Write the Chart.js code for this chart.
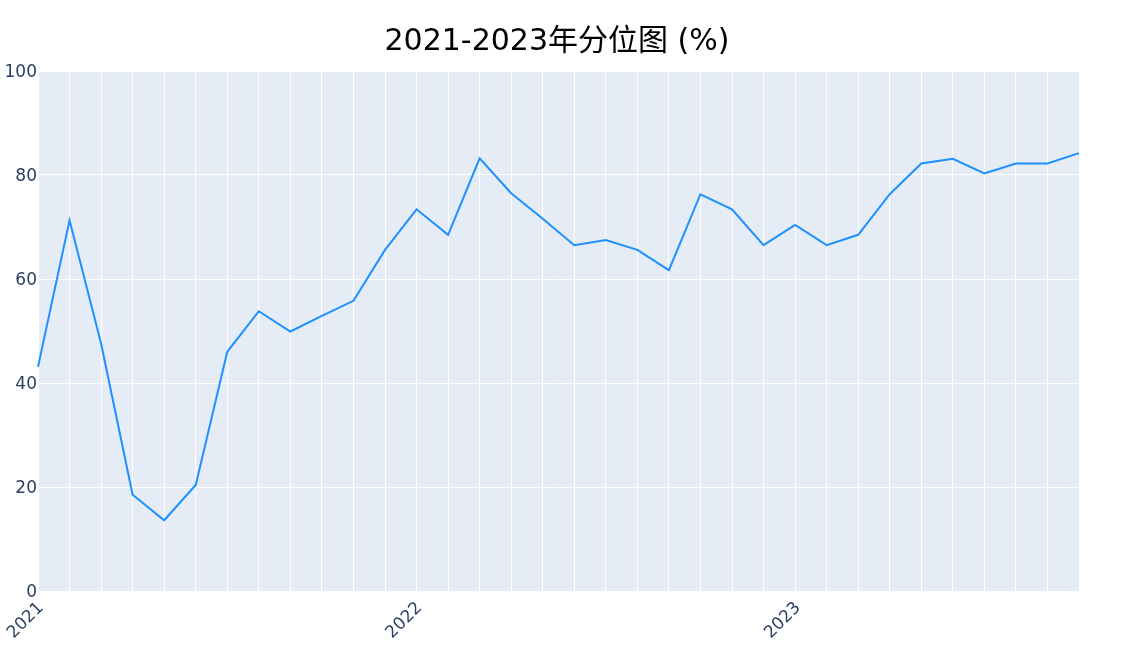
<!DOCTYPE html>
<html>
<head>
<meta charset="utf-8">
<script src="https://cdn.jsdelivr.net/npm/chart.js@4"></script>
<style>
  body { margin: 0; background: #fff; }
  #wrap { width: 1138px; height: 664px; }
</style>
</head>
<body>
<div id="wrap"><canvas id="quantileChart" width="1138" height="664"></canvas></div>
<script>
const months = [
    '2021-01', '2021-02', '2021-03', '2021-04', '2021-05', '2021-06',
    '2021-07', '2021-08', '2021-09', '2021-10', '2021-11', '2021-12',
    '2022-01', '2022-02', '2022-03', '2022-04', '2022-05', '2022-06',
    '2022-07', '2022-08', '2022-09', '2022-10', '2022-11', '2022-12',
    '2023-01', '2023-02', '2023-03', '2023-04', '2023-05', '2023-06',
    '2023-07', '2023-08', '2023-09', '2023-10'
];
const percentile = [
    43.1, 71.3, 47.6, 18.5, 13.6, 20.4, 46.0, 53.8, 49.9, 52.9, 55.8, 65.6,
    73.4, 68.5, 83.2, 76.5, 71.6, 66.5, 67.5, 65.6, 61.7, 76.3, 73.4, 66.5,
    70.4, 66.5, 68.5, 76.3, 82.2, 83.1, 80.3, 82.2, 82.2, 84.2
];
const yTicks = [0, 20, 40, 60, 80, 100];
const chartTitle = '2021-2023年分位图 (%)';

const tickFont = '"DejaVu Sans", "Noto Sans CJK SC", sans-serif';
const tickColor = '#2a3f5f';

// plot background like plotly
const plotBg = {
    id: 'plotBg',
    beforeDraw(chart) {
        const { ctx, chartArea } = chart;
        ctx.save();
        ctx.fillStyle = '#E5ECF6';
        ctx.fillRect(chartArea.left, chartArea.top, chartArea.width, chartArea.height);
        ctx.restore();
    }
};

// title centred a bit right of the plot centre, as in the original
const titleText = {
    id: 'titleText',
    afterDraw(chart) {
        const c = chart.ctx;
        c.save();
        c.font = '30px ' + tickFont;
        c.fillStyle = '#000';
        c.textAlign = 'center';
        c.textBaseline = 'alphabetic';
        c.fillText(chartTitle, 557, 50);
        c.restore();
    }
};

const ctx = document.getElementById('quantileChart').getContext('2d');
new Chart(ctx, {
    type: 'line',
    data: {
        labels: months,
        datasets: [{
            label: '分位',
            data: percentile,
            borderColor: '#1E90FF',
            borderWidth: 2,
            pointRadius: 0,
            tension: 0
        }]
    },
    options: {
        responsive: false,
        animation: false,
        layout: { padding: { left: 0, right: 59, top: 71, bottom: 0 } },
        plugins: {
            legend: { display: false },
            tooltip: { enabled: false },
            title: { display: false }
        },
        scales: {
            x: {
                offset: false,
                border: { display: false },
                grid: { color: '#ffffff', lineWidth: 1, drawTicks: false },
                ticks: {
                    autoSkip: false,
                    maxRotation: 45,
                    minRotation: 45,
                    padding: 7,
                    labelOffset: 3,
                    color: tickColor,
                    font: { family: tickFont, size: 17 },
                    callback: function(value, index) {
                        const m = months[index];
                        return m.endsWith('-01') ? m.slice(0, 4) : '';
                    }
                },
                afterFit: function(scale) { scale.height = 73; }
            },
            y: {
                min: 0,
                max: 100,
                border: { display: false },
                grid: { color: '#ffffff', lineWidth: 1, drawTicks: false },
                afterBuildTicks: function(scale) {
                    scale.ticks = yTicks.map(v => ({ value: v }));
                },
                ticks: {
                    padding: 1,
                    labelOffset: 2,
                    color: tickColor,
                    font: { family: tickFont, size: 17 }
                },
                afterFit: function(scale) { scale.width = 38; }
            }
        }
    },
    plugins: [plotBg, titleText]
});
</script>
</body>
</html>
